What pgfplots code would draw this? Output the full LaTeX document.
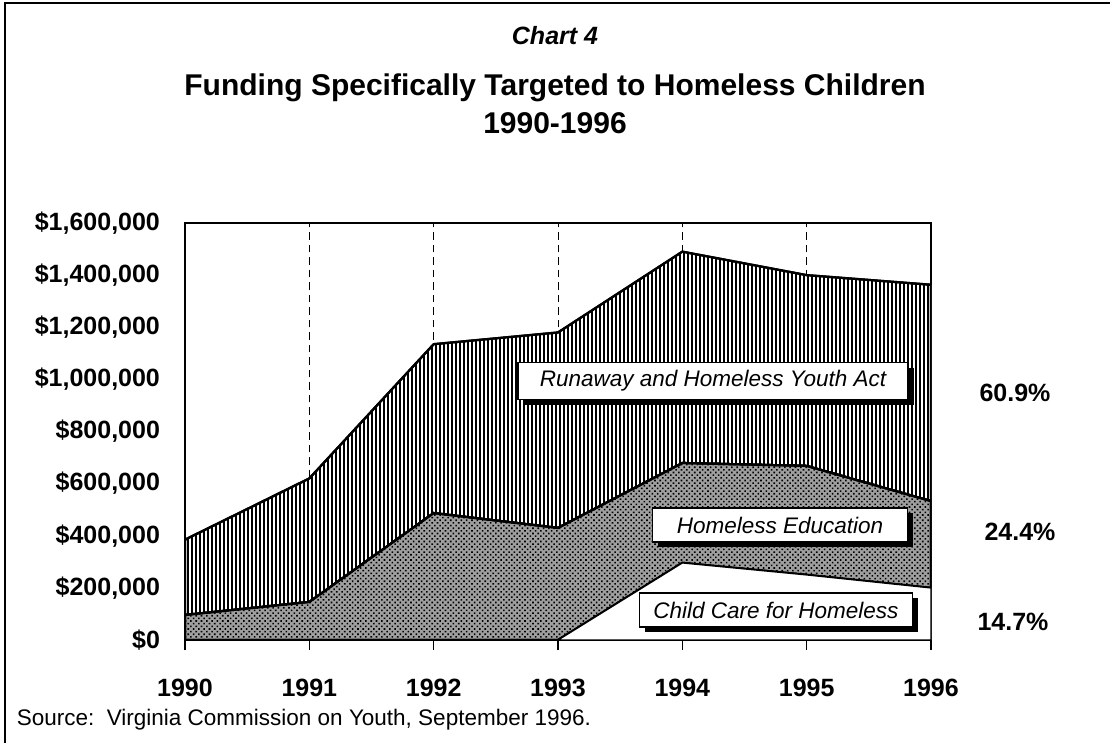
\documentclass[border=0pt]{standalone}
\usepackage{pgfplots}
\pgfplotsset{compat=1.18}
\usepackage{fontspec}
\setmainfont{Liberation Sans}
\usetikzlibrary{patterns,patterns.meta,shadows}

\begin{document}
\begin{tikzpicture}
\path[use as bounding box] (0pt,0pt) rectangle (444pt,297.2pt);
\begin{axis}[
  at={(74pt,41.2pt)}, anchor=south west,
  scale only axis, width=298.4pt, height=166.8pt,
  xmin=1990, xmax=1996, ymin=0, ymax=1600000,
  stack plots=y,
  xtick={1990,1991,1992,1993,1994,1995,1996},
  xticklabels={1990,1991,1992,1993,1994,1995,1996},
  ytick={0,200000,400000,600000,800000,1000000,1200000,1400000,1600000},
  yticklabels={{\$0},{\$200,000},{\$400,000},{\$600,000},{\$800,000},{\$1,000,000},{\$1,200,000},{\$1,400,000},{\$1,600,000}},
  scaled y ticks=false,
  tick label style={font=\bfseries\fontsize{10}{12}\selectfont},
  xticklabel style={yshift=-8pt},
  yticklabel style={xshift=-2.5pt},
  xtick pos=bottom, ytick pos=left,
  tick align=outside, major tick length=4pt,
  ytick style={draw=none},
  xtick style={line width=0.6pt, black},
  axis line style={line width=1pt},
  xmajorgrids,
  grid style={densely dashed, black, line width=0.3pt},
]
\addplot[draw=black, line width=0.6pt, fill=white] coordinates {
(1990,0) (1991,0) (1992,0) (1993,0) (1994,296000) (1995,250000) (1996,200000)} \closedcycle;
\addplot[draw=black, line width=0.9pt, fill=gray!75,
  postaction={pattern={Dots[distance=1.5pt, radius=0.45pt, angle=45]}, pattern color=black}] coordinates {
(1990,96000) (1991,146000) (1992,487000) (1993,430000) (1994,383000) (1995,418000) (1996,333000)} \closedcycle;
\addplot[draw=black, line width=0.9pt, fill=white,
  postaction={pattern={Lines[angle=90, distance=1.6pt, line width=0.95pt]}, pattern color=black}] coordinates {
(1990,289000) (1991,474000) (1992,648000) (1993,750000) (1994,811000) (1995,732000) (1996,830000)} \closedcycle;
\draw[line width=1pt] (rel axis cs:0,0) rectangle (rel axis cs:1,1);
\end{axis}
\begin{scope}[x=0.4pt, y=-0.4pt, shift={(0pt,297.2pt)}]
  \draw[line width=0.7pt] (5,743) -- (5,3) -- (1110,3);
  \node[font=\bfseries\itshape\fontsize{10}{12}\selectfont] at (555,36) {Chart 4};
  \node[font=\bfseries\fontsize{12}{14}\selectfont] at (555,88) {Funding Specifically Targeted to Homeless Children};
  \node[font=\bfseries\fontsize{12}{14}\selectfont] at (555,123) {1990-1996};
  \node[anchor=west, font=\fontsize{9}{11}\selectfont] at (8,720) {Source:\ \ Virginia Commission on Youth, September 1996.};
  \tikzset{lab/.style={draw=black, line width=0.5pt, fill=white, inner sep=0pt,
     font=\itshape\fontsize{9}{11}\selectfont,
     drop shadow={shadow xshift=2.2pt, shadow yshift=-2.2pt, fill=black, opacity=1}}}
  \node[lab, minimum width=156pt, minimum height=15pt] at (713,381) {Runaway and Homeless Youth Act};
  \node[lab, minimum width=102pt, minimum height=13.6pt] at (780,525) {Homeless Education};
  \node[lab, minimum width=109pt, minimum height=13.6pt] at (776,610) {Child Care for Homeless};
  \node[font=\bfseries\fontsize{10}{12}\selectfont] at (1015,393) {60.9\%};
  \node[font=\bfseries\fontsize{10}{12}\selectfont] at (1020,532) {24.4\%};
  \node[font=\bfseries\fontsize{10}{12}\selectfont] at (1013,622) {14.7\%};
\end{scope}
\end{tikzpicture}
\end{document}
